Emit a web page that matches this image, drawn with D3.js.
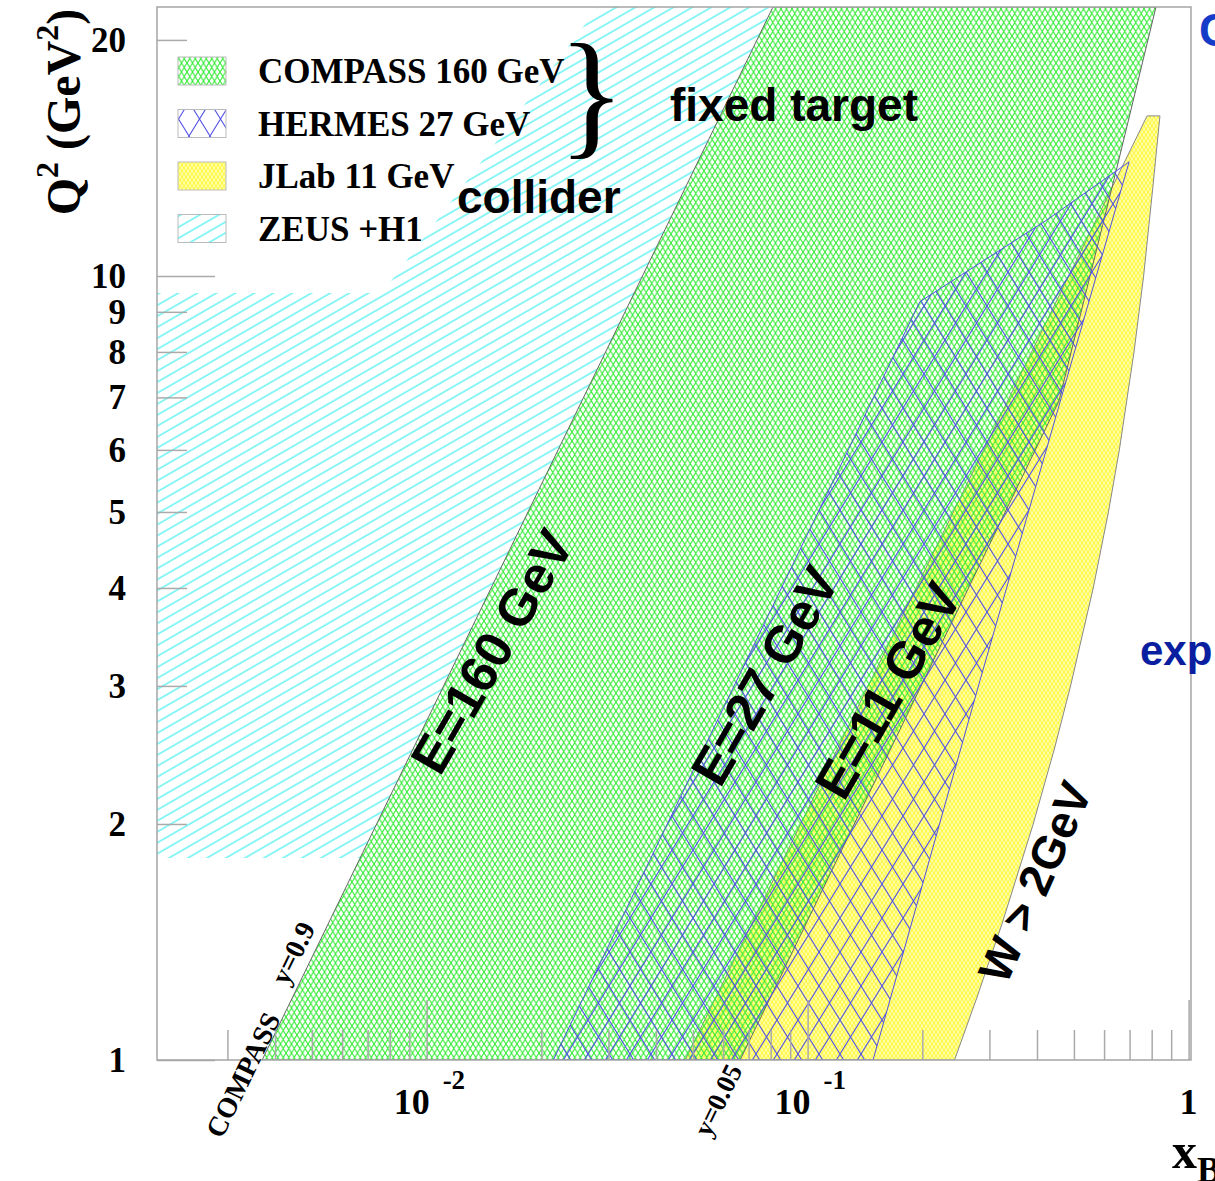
<!DOCTYPE html>
<html>
<head>
<meta charset="utf-8">
<script src="https://cdn.jsdelivr.net/npm/d3@7"></script>
<style>
  body { margin: 0; background: #fff; }
  svg { display: block; }
</style>
</head>
<body>
<div id="chart"></div>
<script>
// kinematic coverage, points are [x_B, Q^2]
const zeusRegion = [[0.00196, 9.51], [0.00764, 9.51], [0.0282, 22.03], [0.0811, 22.03], [0.00669, 1.81], [0.00196, 1.81]];
const jlabRegion = [[0.0477, 1], [0.778, 16.0], [0.841, 16.0], [0.806, 13], [0.762, 10], [0.719, 8], [0.658, 6],
                    [0.616, 5], [0.562, 4], [0.49, 3], [0.445, 2.5], [0.391, 2], [0.325, 1.5], [0.278, 1.2], [0.243, 1]];
const compassRegion = [[0.0037, 1], [0.0811, 22.03], [0.821, 22.03], [0.649, 13.77], [0.457, 6.93], [0.0665, 1]];
const hermesRegion = [[0.0215, 1], [0.197, 9.27], [0.425, 11.79], [0.698, 13.98], [0.2835, 3.05], [0.1485, 1]];

const legendNames = ['COMPASS 160 GeV', 'HERMES 27 GeV', 'JLab 11 GeV', 'ZEUS +H1'];
const legendFills = ['url(#pGreen)', 'url(#pBlue)', 'url(#pYellow)', 'url(#pCyan)'];

const yMajor = [1, 10];
const yMinor = [2, 3, 4, 5, 6, 7, 8, 9, 20];
const xMajor = [0.01, 0.1, 1];
const xMinor = [0.003, 0.004, 0.005, 0.006, 0.007, 0.008, 0.009,
                0.02, 0.03, 0.04, 0.05, 0.06, 0.07, 0.08, 0.09,
                0.2, 0.3, 0.4, 0.5, 0.6, 0.7, 0.8, 0.9];
const xLabels = [['10', '-2'], ['10', '-1'], ['1', '']];

// rotated labels on the plot: text, x_B, Q^2, angle
const bandLabels = [
  ['E=160 GeV', 0.01485, 3.32, -60],
  ['E=27 GeV', 0.0773, 3.09, -60],
  ['E=11 GeV', 0.1626, 2.96, -60],
  ['W > 2GeV', 0.3953, 1.687, -66]
];
const cutLabels = [
  ['COMPASS', 0.003296, 0.957, -64],
  ['y=0.9', 0.004459, 1.369, -64],
  ['y=0.05', 0.0582, 0.889, -64]
];

const W = 1215, H = 1181;
const pLeft = 157, pRight = 1191, pTop = 7, pBottom = 1060;
const serif = '"Liberation Serif", "DejaVu Serif", serif';
const sans = '"Liberation Sans", Arial, sans-serif';

const svg = d3.select('#chart').append('svg')
    .attr('width', W).attr('height', H)
    .style('font-family', serif);

const x = d3.scaleLog().domain([0.00196, 1.0146]).range([pLeft, pRight]);
const y = d3.scaleLog().domain([1, 22.03]).range([pBottom, pTop]);

const defs = svg.append('defs');
defs.append('clipPath').attr('id', 'plotClip')
    .append('rect').attr('x', pLeft).attr('y', pTop).attr('width', pRight - pLeft).attr('height', pBottom - pTop);

function crossPattern(id, w, h, color, sw, bg) {
    const p = defs.append('pattern').attr('id', id)
        .attr('patternUnits', 'userSpaceOnUse').attr('width', w).attr('height', h);
    if (bg) p.append('rect').attr('width', w).attr('height', h).attr('fill', bg);
    p.append('path').attr('d', `M0,0L${w},${h}M${w},0L0,${h}`)
        .attr('stroke', color).attr('stroke-width', sw).attr('fill', 'none');
}
crossPattern('pGreen', 5.5, 9, 'rgb(55,235,55)', 1.15);
crossPattern('pBlue', 21, 34, 'rgb(80,80,230)', 1.1);
crossPattern('pYellow', 4, 6, 'rgb(255,245,50)', 0.9, 'rgb(255,255,165)');

const cyan = defs.append('pattern').attr('id', 'pCyan')
    .attr('patternUnits', 'userSpaceOnUse').attr('width', 20).attr('height', 9.5)
    .attr('patternTransform', 'rotate(-30)');
cyan.append('line').attr('x1', 0).attr('x2', 20).attr('y1', 1).attr('y2', 1)
    .attr('stroke', 'rgb(80,240,240)').attr('stroke-width', 1.3);

const line = d3.line().x(d => x(d[0])).y(d => y(d[1]));

const plot = svg.append('g').attr('clip-path', 'url(#plotClip)');

plot.append('path').datum(zeusRegion).attr('d', d => line(d) + 'Z')
    .attr('fill', 'url(#pCyan)');
plot.append('path').datum(jlabRegion).attr('d', d => line(d) + 'Z')
    .attr('fill', 'url(#pYellow)').attr('stroke', '#888').attr('stroke-width', 1);
plot.append('path').datum(compassRegion).attr('d', d => line(d) + 'Z')
    .attr('fill', 'url(#pGreen)').attr('stroke', '#666').attr('stroke-width', 1);
plot.append('path').datum(hermesRegion).attr('d', d => line(d) + 'Z')
    .attr('fill', 'url(#pBlue)').attr('stroke', 'rgb(80,80,225)').attr('stroke-width', 1);

// axes
function styleAxis(g) {
    g.select('.domain').remove();
    g.selectAll('.tick line').attr('stroke', '#aaa').attr('stroke-width', 1.5);
}
svg.append('g').attr('transform', `translate(${pLeft},0)`)
    .call(d3.axisLeft(y).tickValues(yMajor).tickSize(-58).tickPadding(31).tickFormat(d3.format('d')))
    .call(styleAxis);
svg.append('g').attr('transform', `translate(${pLeft},0)`)
    .call(d3.axisLeft(y).tickValues(yMinor).tickSize(-30).tickPadding(31).tickFormat(d3.format('d')))
    .call(styleAxis);
svg.selectAll('.tick text')
    .attr('font-family', serif).attr('font-weight', 'bold').attr('font-size', 35).attr('fill', '#000');

svg.append('g').attr('transform', `translate(0,${pBottom})`)
    .call(d3.axisBottom(x).tickValues(xMajor).tickSize(-60).tickFormat(''))
    .call(styleAxis);
svg.append('g').attr('transform', `translate(0,${pBottom})`)
    .call(d3.axisBottom(x).tickValues(xMinor).tickSize(-30).tickFormat(''))
    .call(styleAxis);

const xl = svg.append('g').attr('font-weight', 'bold').attr('fill', '#000');
xMajor.forEach((v, i) => {
    const [base, sup] = xLabels[i];
    if (sup) {
        xl.append('text').attr('x', x(v) + 3).attr('y', 1114).attr('text-anchor', 'end')
            .attr('font-size', 36).text(base);
        xl.append('text').attr('x', x(v) + 16).attr('y', 1089).attr('font-size', 27).text(sup);
    } else {
        xl.append('text').attr('x', x(v)).attr('y', 1114).attr('text-anchor', 'middle')
            .attr('font-size', 36).text(base);
    }
});

// frame
svg.append('rect').attr('x', pLeft).attr('y', pTop).attr('width', pRight - pLeft).attr('height', pBottom - pTop)
    .attr('fill', 'none').attr('stroke', '#a5a5a5').attr('stroke-width', 1.5);

// axis titles
const yt = svg.append('text').attr('transform', 'translate(80,112) rotate(-90)')
    .attr('text-anchor', 'middle').attr('font-weight', 'bold').attr('font-size', 48);
yt.append('tspan').text('Q');
yt.append('tspan').attr('dy', -22).attr('font-size', 32).text('2');
yt.append('tspan').attr('dy', 22).text(' (GeV');
yt.append('tspan').attr('dy', -22).attr('font-size', 32).text('2');
yt.append('tspan').attr('dy', 22).text(')');

const xt = svg.append('text').attr('x', 1172).attr('y', 1168).attr('font-weight', 'bold').attr('font-size', 50);
xt.append('tspan').text('x');
xt.append('tspan').attr('dy', 14).attr('font-size', 36).text('B');

// legend
const leg = svg.append('g');
legendNames.forEach((name, i) => {
    const yy = 57 + i * 52.5;
    leg.append('rect').attr('x', 178).attr('y', yy).attr('width', 48).attr('height', 28)
        .attr('fill', legendFills[i]).attr('stroke', '#bbb').attr('stroke-width', 1);
    leg.append('text').attr('x', 258).attr('y', yy + 26).attr('font-weight', 'bold')
        .attr('font-size', 35).text(name);
});
svg.append('text').attr('x', 558).attr('y', 140).attr('font-size', 140).text('}');

// annotations
svg.append('text').attr('x', 670).attr('y', 121).attr('font-family', sans).attr('font-weight', 'bold')
    .attr('font-size', 46).text('fixed target');
svg.append('text').attr('x', 457).attr('y', 213).attr('font-family', sans).attr('font-weight', 'bold')
    .attr('font-size', 46).text('collider');

bandLabels.forEach(([t, xv, qv, a]) => {
    svg.append('text')
        .attr('transform', `translate(${x(xv)},${y(qv)}) rotate(${a})`)
        .attr('text-anchor', 'middle').attr('dominant-baseline', 'central')
        .attr('font-family', sans).attr('font-weight', 'bold').attr('font-size', t[0] === 'W' ? 46 : 52)
        .text(t);
});
cutLabels.forEach(([t, xv, qv, a]) => {
    svg.append('text')
        .attr('transform', `translate(${x(xv)},${y(qv)}) rotate(${a})`)
        .attr('text-anchor', 'middle').attr('dominant-baseline', 'central')
        .attr('font-weight', 'bold').attr('font-size', t === 'y=0.05' ? 27 : 28)
        .text(t);
});

// slide text cut off at the right edge
svg.append('text').attr('x', 1199).attr('y', 46).attr('font-family', sans).attr('font-weight', 'bold')
    .attr('font-size', 46).attr('fill', 'rgb(20,60,200)').text('C');
svg.append('text').attr('x', 1140).attr('y', 665).attr('font-family', sans).attr('font-weight', 'bold')
    .attr('font-size', 42).attr('fill', 'rgb(10,30,160)').text('exp');
</script>
</body>
</html>
